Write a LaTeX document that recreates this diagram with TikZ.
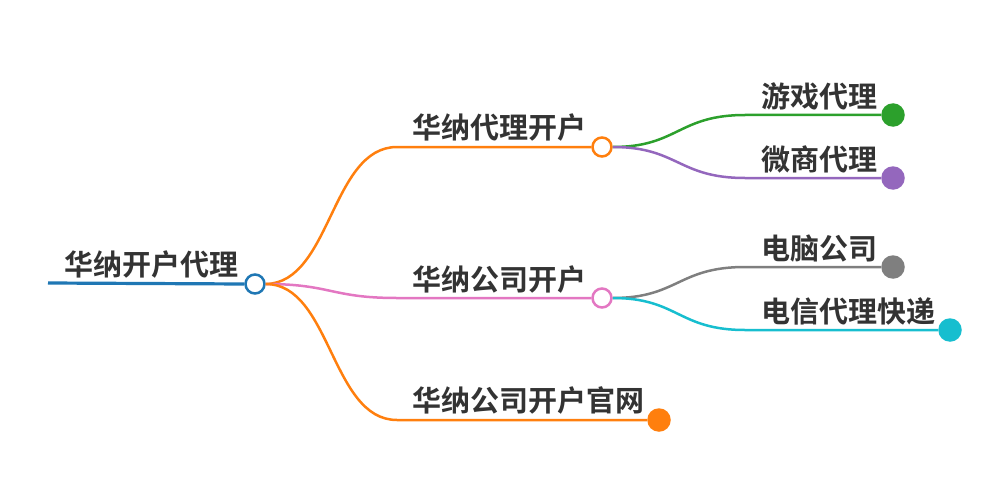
\documentclass[tikz,border=0pt]{standalone}
\usepackage{fontspec}
\newfontfamily\cjk{Noto Sans CJK SC}[BoldFont={Noto Sans CJK SC Bold}]
\definecolor{cblue}{HTML}{1F77B4}
\definecolor{corange}{HTML}{FF7F0E}
\definecolor{cgreen}{HTML}{2CA02C}
\definecolor{cpurple}{HTML}{9467BD}
\definecolor{cpink}{HTML}{E377C2}
\definecolor{cgray}{HTML}{7F7F7F}
\definecolor{ccyan}{HTML}{17BECF}
\definecolor{ctext}{HTML}{333333}
\begin{document}
\begin{tikzpicture}[x=1pt,y=-1pt,
  lbl/.style={anchor=base west,inner sep=0pt,text=ctext,font=\cjk\bfseries\fontsize{29}{32}\selectfont},
  edge/.style={line width=2.5pt},
  hollow/.style={circle,draw,fill=white,line width=2.5pt,minimum size=19pt,inner sep=0pt},
  leaf/.style={circle,fill,minimum size=23.5pt,inner sep=0pt}]
\useasboundingbox (0,0) rectangle (1000,500);
% root
\coordinate (rs) at (48,283);
\node[hollow,draw=cblue] (root) at (255,284) {};
\draw[cblue,line width=3.2pt] (rs) -- (root.west);
\node[lbl] (rootT) at (64,275) {华纳开户代理};
% branch nodes
\coordinate (b1s) at (397,147);
\node[hollow,draw=corange] (b1) at (602,147) {};
\coordinate (b2s) at (397,298);
\node[hollow,draw=cpink] (b2) at (602,298) {};
\coordinate (b3s) at (397,420);
\node[leaf,fill=corange] (b3) at (659,420) {};
\draw[edge,corange] (root.east) .. controls (331,283) and (331,147) .. (b1s) -- (b1.west);
\draw[edge,cpink] (root.east) .. controls (331,284) and (331,298) .. (b2s) -- (b2.west);
\draw[edge,corange] (root.east) .. controls (331,284) and (331,420) .. (b3s) -- (b3.west);
\node[lbl] (b1T) at (412,139) {华纳代理开户};
\node[lbl] (b2T) at (412,290) {华纳公司开户};
\node[lbl] (b3T) at (412,411) {华纳公司开户官网};
% leaves
\coordinate (l1s) at (745,115);
\node[leaf,fill=cgreen] (l1) at (893,115) {};
\coordinate (l2s) at (745,178);
\node[leaf,fill=cpurple] (l2) at (893,178) {};
\coordinate (l3s) at (745,267);
\node[leaf,fill=cgray] (l3) at (893,267) {};
\coordinate (l4s) at (745,330);
\node[leaf,fill=ccyan] (l4) at (950,330) {};
\draw[edge,cgreen] (b1.east) .. controls (678,147) and (678,115) .. (l1s) -- (l1.west);
\draw[edge,cpurple] (b1.east) .. controls (678,147) and (678,178) .. (l2s) -- (l2.west);
\draw[edge,cgray] (b2.east) .. controls (678,298) and (678,267) .. (l3s) -- (l3.west);
\draw[edge,ccyan] (b2.east) .. controls (678,298) and (678,330) .. (l4s) -- (l4.west);
\node[lbl] (l1T) at (761,107) {游戏代理};
\node[lbl] (l2T) at (761,170) {微商代理};
\node[lbl] (l3T) at (761,259) {电脑公司};
\node[lbl] (l4T) at (761,322) {电信代理快递};
\end{tikzpicture}
\end{document}
